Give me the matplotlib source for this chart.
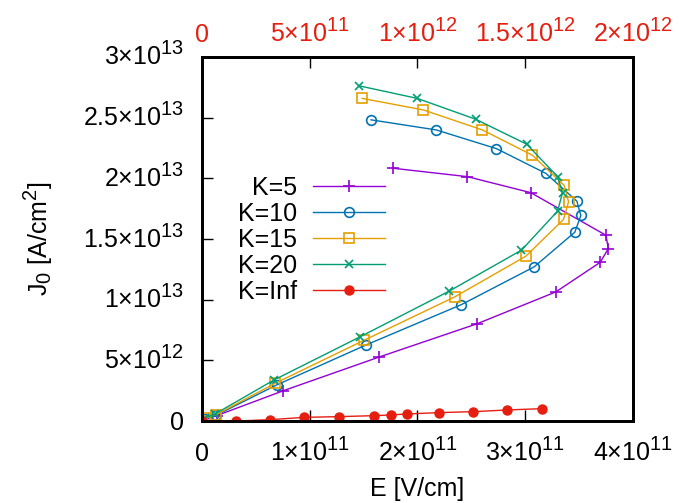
import numpy as np
import matplotlib.pyplot as plt
import matplotlib._mathtext as mathtext_impl
from matplotlib.transforms import ScaledTranslation

plt.rcParams['font.family'] = 'Liberation Sans'
plt.rcParams['mathtext.fontset'] = 'custom'
plt.rcParams['mathtext.rm'] = 'Liberation Sans'
plt.rcParams['mathtext.it'] = 'Liberation Sans'
plt.rcParams['mathtext.default'] = 'regular'
# larger exponents, closer to gnuplot's enhanced text
mathtext_impl.SHRINK_FACTOR = 0.8

# E [V/cm] and J0 [A/cm^2] for each K
E_k5 = [0, 0.136e11, 0.756e11, 1.640e11, 2.555e11, 3.284e11, 3.696e11, 3.771e11, 3.749e11, 3.051e11, 2.462e11, 1.774e11]
J_k5 = [0, 4.4e11, 2.50e12, 5.26e12, 8.02e12, 1.064e13, 1.308e13, 1.421e13, 1.531e13, 1.882e13, 2.014e13, 2.083e13]

E_k10 = [0, 0.03e11, 0.130e11, 0.695e11, 1.526e11, 2.407e11, 3.082e11, 3.460e11, 3.516e11, 3.479e11, 3.191e11, 2.732e11, 2.174e11, 1.569e11]
J_k10 = [0, 2.0e11, 4.7e11, 2.98e12, 6.28e12, 9.59e12, 1.270e13, 1.556e13, 1.694e13, 1.812e13, 2.041e13, 2.245e13, 2.399e13, 2.482e13]

E_k15 = [0, 0.03e11, 0.130e11, 0.679e11, 1.501e11, 2.344e11, 3.005e11, 3.355e11, 3.402e11, 3.361e11, 3.067e11, 2.602e11, 2.053e11, 1.486e11]
J_k15 = [0, 2.3e11, 5.2e11, 3.11e12, 6.64e12, 1.022e13, 1.358e13, 1.661e13, 1.807e13, 1.942e13, 2.190e13, 2.399e13, 2.564e13, 2.659e13]

E_k20 = [0, 0.03e11, 0.121e11, 0.670e11, 1.463e11, 2.291e11, 2.965e11, 3.300e11, 3.346e11, 3.300e11, 3.014e11, 2.540e11, 1.997e11, 1.455e11]
J_k20 = [0, 2.5e11, 5.8e11, 3.39e12, 6.92e12, 1.069e13, 1.408e13, 1.730e13, 1.882e13, 2.014e13, 2.281e13, 2.487e13, 2.659e13, 2.763e13]

# K=Inf goes against the top (x2) axis
E_inf = [0, 1.58e11, 3.16e11, 4.74e11, 6.34e11, 8.00e11, 8.78e11, 9.52e11, 1.099e12, 1.259e12, 1.417e12, 1.580e12]
J_inf = [0, 0, 1.1e11, 3.0e11, 3.6e11, 4.4e11, 5.0e11, 5.8e11, 6.9e11, 7.7e11, 9.1e11, 1.02e12]

xticks = [0, 1e11, 2e11, 3e11, 4e11]
xlabels = ['0', r'$1{\times}10^{11}$', r'$2{\times}10^{11}$', r'$3{\times}10^{11}$', r'$4{\times}10^{11}$']
x2ticks = [0, 5e11, 1e12, 1.5e12, 2e12]
x2labels = ['0', r'$5{\times}10^{11}$', r'$1{\times}10^{12}$', r'$1.5{\times}10^{12}$', r'$2{\times}10^{12}$']
yticks = [0, 5e12, 1e13, 1.5e13, 2e13, 2.5e13, 3e13]
ylabels = ['0', r'$5{\times}10^{12}$', r'$1{\times}10^{13}$', r'$1.5{\times}10^{13}$',
           r'$2{\times}10^{13}$', r'$2.5{\times}10^{13}$', r'$3{\times}10^{13}$']

fs = 18
fig = plt.figure(figsize=(6.81, 5.03), dpi=100)
ax = fig.add_axes([202/681, 1-421/503, 431/681, 364/503])
ax2 = ax.twiny()

h1, = ax.plot(E_k5, J_k5, color='#9400d3', lw=1, marker='+', ms=8, mew=1.2, label='K=5')
h2, = ax.plot(E_k10, J_k10, color='#0072b2', lw=1, marker='o', ms=7, mfc='none', mew=1.2, label='K=10')
h3, = ax.plot(E_k15, J_k15, color='#e69f00', lw=1, marker='s', ms=6.5, mfc='none', mew=1.2, label='K=15')
h4, = ax.plot(E_k20, J_k20, color='#009e73', lw=1, marker='x', ms=6, mew=1.2, label='K=20')
h5, = ax2.plot(E_inf, J_inf, color='#e51e10', lw=1, marker='o', ms=6.5, mec='#e51e10', label='K=Inf')

ax.set_xlim(0, 4e11)
ax.set_ylim(0, 3e13)
ax2.set_xlim(0, 2e12)

ax.set_xticks(xticks, xlabels, fontsize=fs)
ax.set_yticks(yticks, ylabels, fontsize=fs)
ax2.set_xticks(x2ticks, x2labels, fontsize=fs, color='#e51e10')

ax.tick_params(axis='x', direction='in', length=8, width=1, pad=29, top=False)
ax.tick_params(axis='y', direction='in', length=8, width=1, pad=13, right=False)
ax2.tick_params(axis='x', direction='in', length=8, width=1, pad=11, labelcolor='#e51e10')

for lbl in ax.get_xticklabels():
    lbl.set_va('baseline')
for lbl in ax2.get_xticklabels():
    lbl.set_va('baseline')
shift = ScaledTranslation(0, -8.5/100, fig.dpi_scale_trans)
for lbl in ax.get_yticklabels():
    lbl.set_va('baseline')
    lbl.set_transform(lbl.get_transform() + shift)

for a in (ax, ax2):
    for s in a.spines.values():
        s.set_linewidth(2)

ax.set_xlabel('E [V/cm]', fontsize=fs)
ax.xaxis.set_label_coords(0.5, -0.155)
ax.set_ylabel(r'J$_0$ [A/cm$^2$]', fontsize=fs)
ax.yaxis.set_label_coords(-0.34, 0.5)

# markerfirst=False puts the samples on the right and right-aligns the labels
ax2.legend(handles=[h1, h2, h3, h4, h5], loc='center',
           bbox_to_anchor=(311.5/681, 1-240/503), bbox_transform=fig.transFigure,
           frameon=False, markerfirst=False, fontsize=fs, handlelength=2.9,
           handletextpad=0.65, labelspacing=0.08, borderpad=0, borderaxespad=0)

fig.savefig('out.png', dpi=100)
